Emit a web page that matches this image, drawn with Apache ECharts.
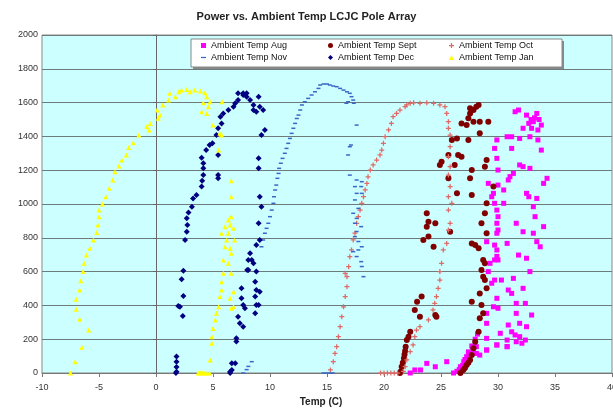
<!DOCTYPE html>
<html><head><meta charset="utf-8">
<script src="https://cdn.jsdelivr.net/npm/echarts@6/dist/echarts.min.js"></script>
<style>html,body{margin:0;padding:0;background:#fff}#c{width:613px;height:415px}</style>
</head><body><div id="c"></div>
<script>
var titleText = 'Power vs. Ambient Temp LCJC Pole Array';
var xName = 'Temp (C)';
var yName = 'Power (W)';
var seriesNames = ['Ambient Temp Aug','Ambient Temp Sept','Ambient Temp Oct','Ambient Temp Nov','Ambient Temp Dec','Ambient Temp Jan'];

var aug = [[22.3,0],[22.7,18],[23.2,18],[23.75,57],[24.5,37],[25.5,67],[26.1,0],[26.4,10],[26.7,37],[27.0,67],[27.25,97],[27.5,116],[27.8,136],[28.1,156],[28.4,106],[29.0,136],[29.9,166],[30.8,156],[32.1,176],[26.6,20],[26.9,45],[27.1,80],[27.4,125],[27.7,160],[28.0,200],[28.2,230],
[31.5,1546],[31.8,1556],[32.5,1526],[32.2,1448],[33.8,1467],[33.4,1536],[33.1,1487],[32.7,1477],[33.5,1438],[32.95,1448],[33.2,1510],[33.6,1500],[32.9,1500],
[29.9,1379],[30.8,1398],[31.2,1398],[31.9,1388],[32.8,1398],[33.5,1379],[29.7,1329],[31.2,1329],[33.8,1319],[29.9,1270],[31.9,1231],[32.2,1221],[32.8,1211],[30.0,1201],[31.35,1181],[31.05,1162],[30.9,1142],[34.3,1152],[34.0,1122],[29.15,1122],[30.0,1112],[30.5,1083],[29.6,1063],[29.45,1043],[32.5,1063],[32.7,1043],[33.4,1033],[29.7,1004],[30.5,1004],[33.1,984],[29.9,964],[30.0,925],[33.25,925],[29.9,886],[31.6,886],[30.0,846],[34.0,866],[29.9,827],[32.2,836],[33.1,827],[29.0,777],[30.8,767],[33.4,777],[33.7,747],[29.7,757],[29.9,728],[29.9,690],[29.7,669],[31.8,698],[32.5,679],[29.3,649],[30.0,669],[29.15,600],[32.8,600],[29.7,550],[30.3,550],[31.35,560],[29.45,531],[30.9,491],[31.2,471],[32.2,501],[29.9,442],[31.6,412],[32.4,412],[29.6,392],[30.0,383],[29.0,353],[31.6,353],[32.95,343],[29.0,294],[30.9,284],[31.9,294],[32.5,274],[30.2,235],[31.2,244],[31.5,225],[31.9,215],[32.4,195],[30.8,195],[29.0,205],[29.9,166],[30.8,156],[31.6,185],[29.0,136],[28.1,116]];

var sept = [[21.4,0],[21.45,8],[21.55,37],[21.65,60],[21.75,87],[21.8,110],[21.85,130],[21.9,156],[22.0,195],[22.15,215],[22.3,244],
[23.45,787],[23.9,807],[24.35,747],[23.75,866],[23.9,895],[24.5,886],[25.8,836],[23.3,452],[22.9,422],[22.7,373],[23.15,333],[24.5,343],[24.6,333],[23.75,945],
[26.4,1063],[27.7,1053],[27.55,1152],[27.7,1201],[25.65,1152],[24.9,1231],[25.05,1250],[26.2,1231],[26.5,1290],[26.8,1280],[25.65,1290],[25.95,1379],[26.4,1388],[27.4,1379],[26.8,1477],[27.25,1467],[27.4,1507],[27.55,1536],[27.85,1556],[28.1,1576],[28.3,1586],[27.55,1566],[27.85,1487],[28.4,1487],[29.15,1487],[28.4,1418],[29.0,1260],[28.85,1221],[29.6,1103],[29.0,1004],[28.85,945],[28.55,886],[29.0,827],[28.0,757],[28.3,738],[27.7,767],[28.7,669],[28.85,649],[28.55,610],[28.7,570],[28.85,550],[29.0,501],[28.4,471],[27.7,422],[28.55,402],[28.7,353],[28.4,324],[28.3,244],[28.0,185],[27.85,146],[27.7,106],[27.55,77],[27.25,47],[26.95,18],[26.7,0],[27.1,30],[27.4,60]];

var oct = [[19.7,0],[20.0,0],[20.3,0],[20.6,0],[20.9,0],[21.2,0],[15.3,18],[15.55,67],[15.7,116],[15.85,156],[16.0,215],[16.15,274],[16.3,333],[16.45,392],[16.6,452],[16.75,511],[16.75,570],[16.6,590],[16.9,629],[17.0,688],[17.15,728],[17.3,787],[17.45,827],[17.6,886],[17.75,925],[17.9,964],[18.05,1004],[18.2,1043],[18.35,1083],[18.5,1122],[18.6,1161],[18.8,1201],[19.05,1231],[19.35,1260],[19.65,1290],[19.8,1319],[19.95,1359],[20.1,1398],[20.4,1438],[20.65,1477],[20.8,1517],[21.1,1536],[21.4,1556],[21.85,1576],[22.0,1586],[22.3,1596],[22.6,1599],[23.15,1596],[23.75,1599],[24.35,1596],[24.9,1586],[25.35,1576],[25.5,1536],[25.65,1487],[25.65,1448],[25.8,1408],[25.8,1339],[25.65,1280],[25.8,1221],[25.65,1171],[25.8,1103],[25.65,1043],[25.95,1004],[25.65,964],[25.8,886],[25.65,846],[25.5,767],[25.2,728],[25.05,649],[24.9,600],[24.9,550],[24.75,501],[24.6,452],[24.45,412],[24.3,373],[23.9,314],[23.15,274],[22.85,254],[22.7,215],[22.55,166],[22.3,126],[22.0,77],[21.85,37],[21.7,10]];

var nov = [[7.65,0],[7.95,20],[8.1,39],[8.4,67],[14.7,0],[15.0,0],[15.3,0],[15.5,0],
[9.25,747],[9.4,787],[9.55,827],[9.7,856],[9.85,886],[10.0,925],[10.15,964],[10.3,1004],[10.35,1043],[10.45,1083],[10.55,1112],[10.65,1152],[10.75,1181],[10.8,1211],[10.95,1241],[11.1,1270],[11.3,1300],[11.45,1329],[11.6,1359],[11.75,1388],[11.9,1418],[12.05,1448],[12.2,1477],[12.35,1506],[12.5,1526],[12.65,1556],[12.8,1586],[13.05,1605],[13.35,1625],[13.65,1645],[13.95,1664],[14.25,1684],[14.4,1704],[14.7,1710],[15.0,1710],[15.25,1704],[15.55,1698],[15.85,1694],[16.15,1684],[16.45,1674],[16.75,1664],[17.0,1655],[17.15,1635],[17.3,1615],[17.35,1596],[16.85,1605],[16.7,1596],[17.6,1467],[17.0,1339],[17.1,1349],[16.85,1290],[17.0,1171],[17.6,1142],[18.05,1132],[17.45,1103],[18.0,1103],[17.6,1063],[18.05,1063],[17.45,1024],[17.75,974],[17.3,945],[17.6,915],[17.45,886],[18.0,866],[17.6,837],[17.45,807],[17.75,778],[18.05,747],[17.75,728],[17.3,718],[17.6,689],[18.0,659],[18.05,630],[18.2,570]];

var dec = [[1.8,97],[1.8,67],[1.8,36],[1.8,8],[1.75,0],[1.95,396],[2.1,392],[2.35,337],[2.4,456],[2.25,554],[2.4,605],[2.55,787],[2.7,836],[2.75,876],[2.7,915],[2.85,949],[3.15,984],[3.25,1033],[3.55,1053],[4.0,1103],[4.05,1138],[4.15,1171],[4.15,1211],[4.15,1241],[4.0,1274],[4.4,1319],[4.7,1349],[4.95,1359],[5.45,1171],[5.45,1152],[5.45,1290],[5.3,1408],[5.45,1448],[5.75,1477],[5.65,1517],[5.9,1536],[6.35,1556],[6.8,1576],[6.95,1596],[7.2,1615],[7.65,1645],[7.95,1655],[7.2,1655],[7.65,1655],[7.95,1635],[8.25,1615],[8.55,1586],[9.0,1635],[9.1,1576],[9.4,1556],[8.8,1546],[8.55,1556],[9.55,1438],[9.25,1408],[9.0,1270],[9.0,1211],[9.1,1043],[9.25,984],[9.0,886],[9.1,787],[8.8,757],[8.25,708],[8.4,669],[8.55,649],[8.1,610],[8.8,600],[8.7,540],[8.8,491],[9.1,481],[8.7,452],[8.8,402],[9.0,402],[8.7,353],[7.5,501],[7.5,442],[7.65,402],[7.8,383],[7.2,333],[7.35,294],[7.65,274],[7.05,205],[7.05,187],[6.95,57],[6.65,18],[6.5,0],[6.65,57],[6.5,8],[8.1,669],[8.0,610]];

var jan = [[-7.5,0],[-7.1,67],[-6.5,152],[-5.9,254],[-6.7,318],[-7.0,377],[-7.0,436],[-6.7,491],[-6.6,546],[-6.4,600],[-6.3,649],[-6.1,698],[-5.8,738],[-5.5,787],[-5.2,832],[-5.1,876],[-5.0,925],[-5.0,964],[-4.7,1000],[-4.4,1043],[-4.1,1093],[-3.8,1142],[-3.6,1191],[-3.25,1225],[-3.0,1260],[-2.6,1290],[-2.4,1335],[-2.0,1363],[-1.5,1408],[-0.8,1458],[-0.5,1477],[-0.6,1438],[0.1,1556],[0.35,1527],[0.2,1507],[0.6,1586],[1.1,1615],[1.2,1655],[1.7,1635],[2.0,1664],[2.25,1674],[2.7,1678],[3.0,1664],[3.4,1674],[3.9,1668],[4.3,1658],[4.45,1635],[4.75,1605],[4.6,1576],[4.15,1599],[4.0,1546],[4.45,1536],[5.8,1605],[5.0,1467],[5.6,1418],[5.5,1319],[5.75,1408],[6.6,1138],[6.6,1043],[6.6,925],[6.35,905],[6.5,876],[6.05,866],[6.8,856],[5.75,827],[6.35,827],[6.2,787],[6.9,787],[6.05,747],[6.5,738],[6.6,708],[5.9,669],[6.35,649],[5.9,590],[6.6,590],[5.75,540],[5.75,491],[6.8,481],[5.6,452],[6.5,442],[6.8,392],[6.6,383],[5.5,392],[5.3,353],[5.2,314],[5.0,264],[4.9,215],[4.9,176],[4.75,77],[3.7,0],[3.9,0],[4.1,0],[4.3,0],[4.5,0],[4.7,0]];

var xTicks = {min: -10, max: 40, interval: 5};
var yTicks = {min: 0, max: 2000, interval: 200};

var FONT = '"Liberation Sans", Arial, sans-serif';
var PLUS = 'path://M3,0H5V3H8V5H5V8H3V5H0V3H3Z';
var DASH = 'path://M0,0H8V2H0Z';

var styles = [
  {data: aug, symbol: 'rect', size: 5, color: '#FF00FF'},
  {data: sept, symbol: 'circle', size: 6, color: '#800000'},
  {data: oct, symbol: PLUS, size: 5, color: '#E06A66'},
  {data: nov, symbol: DASH, size: [4, 1.5], color: '#3A66C8'},
  {data: dec, symbol: 'diamond', size: 6, color: '#000080'},
  {data: jan, symbol: 'triangle', size: 5, color: '#FFFF00'}
];

var series = styles.map(function (s, i) {
  return {
    name: seriesNames[i], type: 'scatter', data: s.data,
    symbol: s.symbol, symbolSize: s.size,
    itemStyle: {color: s.color, opacity: 1},
    emphasis: {disabled: true}, animation: false
  };
});

var legPos = [[201, 41], [328, 41], [449, 41], [201, 53], [328, 53], [449, 53]];
var legends = seriesNames.map(function (n, i) {
  return {
    data: [n], left: legPos[i][0], top: legPos[i][1], padding: 0,
    itemWidth: 5, itemHeight: 5, itemGap: 0, selectedMode: false, z: 100,
    textStyle: {fontFamily: FONT, fontSize: 9, color: '#111'}
  };
});

var plain = function (v) { return String(v); };

var chart = echarts.init(document.getElementById('c'), null, {renderer: 'canvas'});
chart.setOption({
  animation: false,
  backgroundColor: '#ffffff',
  title: {text: titleText, left: 'center', top: 6,
    textStyle: {fontFamily: FONT, fontSize: 11, fontWeight: 'bold', color: '#222'}},
  graphic: [
    {type: 'rect', shape: {x: 193, y: 41, width: 371, height: 28}, style: {fill: '#888'}, z: 90},
    {type: 'rect', shape: {x: 191, y: 39, width: 371, height: 28}, style: {fill: '#fff', stroke: '#888', lineWidth: 1}, z: 91}
  ],
  legend: legends,
  grid: {left: 42, right: 1, top: 35, bottom: 42, show: true, containLabel: false,
    outerBoundsMode: 'none',
    backgroundColor: '#CCFFFF', borderColor: '#888', borderWidth: 1},
  xAxis: {
    type: 'value', min: xTicks.min, max: xTicks.max, interval: xTicks.interval,
    name: xName, nameLocation: 'middle', nameGap: 24,
    nameTextStyle: {fontFamily: FONT, fontSize: 10, fontWeight: 'bold', color: '#222', padding: [0, 12, 0, 0]},
    axisLine: {onZero: false, lineStyle: {color: '#777', width: 1}},
    axisTick: {show: true, inside: false, length: 4, lineStyle: {color: '#777'}},
    axisLabel: {fontFamily: FONT, fontSize: 9, color: '#333', margin: 10, formatter: plain},
    splitLine: {show: false}
  },
  yAxis: {
    type: 'value', min: yTicks.min, max: yTicks.max, interval: yTicks.interval,
    name: yName, nameLocation: 'middle', nameGap: 132, nameRotate: 90,
    nameTextStyle: {fontFamily: FONT, fontSize: 10, fontWeight: 'bold', color: '#222'},
    axisLine: {show: true, onZero: true, lineStyle: {color: '#666', width: 1}},
    axisTick: {show: true, length: 3, lineStyle: {color: '#666'}},
    axisLabel: {fontFamily: FONT, fontSize: 9, color: '#333', margin: 4, formatter: plain},
    splitLine: {show: true, lineStyle: {color: '#6E7B7B', width: 1}}
  },
  series: series
});
</script>
</body></html>
